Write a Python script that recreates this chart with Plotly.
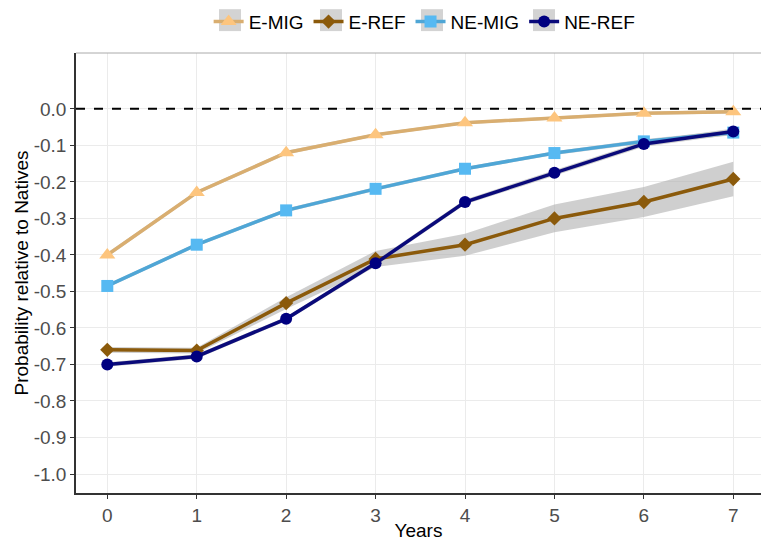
import plotly.graph_objects as go

years = [0, 1, 2, 3, 4, 5, 6, 7]
series_names = ["E-MIG", "E-REF", "NE-MIG", "NE-REF"]
e_mig = [-0.400, -0.229, -0.120, -0.071, -0.038, -0.025, -0.012, -0.008]
e_ref = [-0.660, -0.662, -0.532, -0.411, -0.372, -0.300, -0.255, -0.192]
ne_mig = [-0.485, -0.372, -0.278, -0.219, -0.164, -0.121, -0.089, -0.065]
ne_ref = [-0.700, -0.678, -0.575, -0.423, -0.255, -0.175, -0.096, -0.062]
e_mig_ci = [0.006, 0.005, 0.005, 0.004, 0.004, 0.004, 0.004, 0.005]
e_ref_ci = [0.008, 0.008, 0.016, 0.022, 0.030, 0.038, 0.041, 0.047]
ne_mig_ci = [0.005, 0.005, 0.005, 0.005, 0.005, 0.005, 0.006, 0.007]
ne_ref_ci = [0.006, 0.006, 0.006, 0.007, 0.007, 0.007, 0.008, 0.008]
y_ticks = [0.0, -0.1, -0.2, -0.3, -0.4, -0.5, -0.6, -0.7, -0.8, -0.9, -1.0]
y_tick_labels = ["0.0", "-0.1", "-0.2", "-0.3", "-0.4", "-0.5", "-0.6", "-0.7", "-0.8", "-0.9", "-1.0"]

values = [e_mig, e_ref, ne_mig, ne_ref]
cis = [e_mig_ci, e_ref_ci, ne_mig_ci, ne_ref_ci]
line_colors = ["#D9AE70", "#8B5A0B", "#4FA6D6", "#0A0A7A"]
marker_colors = ["#FDC57E", "#8B5A0B", "#56B9F2", "#000080"]
symbols = ["triangle-up", "diamond", "square", "circle"]
msizes = [14, 11, 12, 12]

# legend key background boxes (pixel centres of the legend symbols)
key_centres_px = [230, 331, 432, 544]

fig = go.Figure()

for name, v, c in zip(series_names, values, cis):
    upper = [a + b for a, b in zip(v, c)]
    lower = [a - b for a, b in zip(v, c)]
    fig.add_trace(go.Scatter(x=years + years[::-1], y=upper + lower[::-1], mode="lines",
                             fill="toself", fillcolor="rgba(175,175,175,0.6)",
                             line=dict(width=0), hoverinfo="skip", showlegend=False))

for name, v, lc, mc, s, ms in zip(series_names, values, line_colors, marker_colors, symbols, msizes):
    fig.add_trace(go.Scatter(x=years, y=v, name=name, mode="lines+markers",
                             line=dict(color=lc, width=3.5),
                             marker=dict(symbol=s, size=ms, color=mc)))

fig.add_shape(type="line", xref="paper", yref="y", x0=0, x1=1, y0=0, y1=0,
              line=dict(color="black", width=2, dash="dash"))
fig.add_shape(type="line", xref="paper", yref="paper", x0=0, x1=1, y0=1, y1=1,
              line=dict(color="#AAAAAA", width=1))

L, T, B, W, H = 76, 53, 46, 761, 541
pw, ph = W - L, H - T - B
for cx in key_centres_px:
    fig.add_shape(type="rect", xref="paper", yref="paper", layer="below",
                  x0=(cx - 11 - L) / pw, x1=(cx + 11 - L) / pw,
                  y0=(H - B - 31) / ph, y1=(H - B - 9) / ph,
                  fillcolor="#D3D3D3", line=dict(width=0))

fig.update_layout(
    width=W, height=H,
    margin=dict(l=L, r=0, t=T, b=B),
    paper_bgcolor="white", plot_bgcolor="white",
    font=dict(family="Liberation Sans, Arial, sans-serif", color="#000000"),
    legend=dict(orientation="h", xref="container", yref="container", x=0.558, xanchor="center",
                y=0.995, yanchor="top", font=dict(size=19, color="#000000"),
                bgcolor="rgba(0,0,0,0)", itemwidth=30, tracegroupgap=0),
    xaxis=dict(range=[-0.35, 7.31], tickvals=years, ticktext=[str(y) for y in years],
               showgrid=True, gridcolor="#EBEBEB", gridwidth=1, zeroline=False,
               showline=True, linecolor="#333333", linewidth=1.5, ticks="outside",
               ticklen=4, tickcolor="#333333", tickfont=dict(size=19, color="#4D4D4D"),
               title=dict(text="Years", font=dict(size=19, color="#000000"), standoff=2)),
    yaxis=dict(range=[-1.052, 0.153], tickvals=y_ticks, ticktext=y_tick_labels,
               showgrid=True, gridcolor="#EBEBEB", gridwidth=1, zeroline=False,
               showline=True, linecolor="#333333", linewidth=1.5, ticks="outside",
               ticklen=4, tickcolor="#333333", tickfont=dict(size=19, color="#4D4D4D"),
               title=dict(text="Probability relative to Natives", font=dict(size=19, color="#000000"), standoff=0)),
)

fig.write_html("out.html", config={"displayModeBar": False},
               post_script="document.body.style.margin='0';")
